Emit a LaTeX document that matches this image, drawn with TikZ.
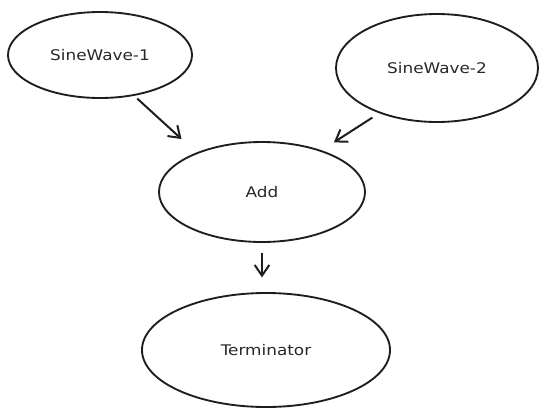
\documentclass[tikz,border=0pt]{standalone}
\usepackage{fontspec}
\newfontfamily\handfont[FakeStretch=1.15]{DejaVu Sans}
\usetikzlibrary{arrows.meta}
\usetikzlibrary{shapes.geometric}

\begin{document}
\begin{tikzpicture}[x=0.75pt,y=0.75pt,yscale=-1,xscale=1,
  blob/.style={ellipse, draw={rgb, 255:red, 30; green, 30; blue, 30 }, line width=1.4pt, inner sep=0pt, font=\handfont\fontsize{11}{13}\selectfont, text={rgb, 255:red, 40; green, 40; blue, 40 }},
  flow/.style={draw={rgb, 255:red, 30; green, 30; blue, 30 }, line width=1.5pt, -{Straight Barb[length=8pt,width=11pt]}}]
\useasboundingbox (0,0) rectangle (540,408);

%Shape: Ellipse [SineWave-1]
\node [blob, minimum width=138pt, minimum height=64.5pt] (sine1) at (100,55) {SineWave-1};
%Shape: Ellipse [SineWave-2]
\node [blob, minimum width=151.5pt, minimum height=81pt] (sine2) at (437,68) {SineWave-2};
%Shape: Ellipse [Add]
\node [blob, minimum width=154.5pt, minimum height=75pt] (add) at (262,192) {Add};
%Shape: Ellipse [Terminator]
\node [blob, minimum width=186pt, minimum height=85.5pt] (term) at (266,350) {Terminator};

%Straight Lines [sine1 to add]
\draw [flow, shorten <=3pt, shorten >=15pt] (sine1.-50) -- (add.149) ;
%Straight Lines [sine2 to add]
\draw [flow, shorten <=6pt, shorten >=11pt] (sine2.218) -- (add.35) ;
%Straight Lines [add to term]
\draw [flow, shorten <=7.5pt, shorten >=11pt] (add.south) -- (add.south |- term.north) ;

\end{tikzpicture}
\end{document}
